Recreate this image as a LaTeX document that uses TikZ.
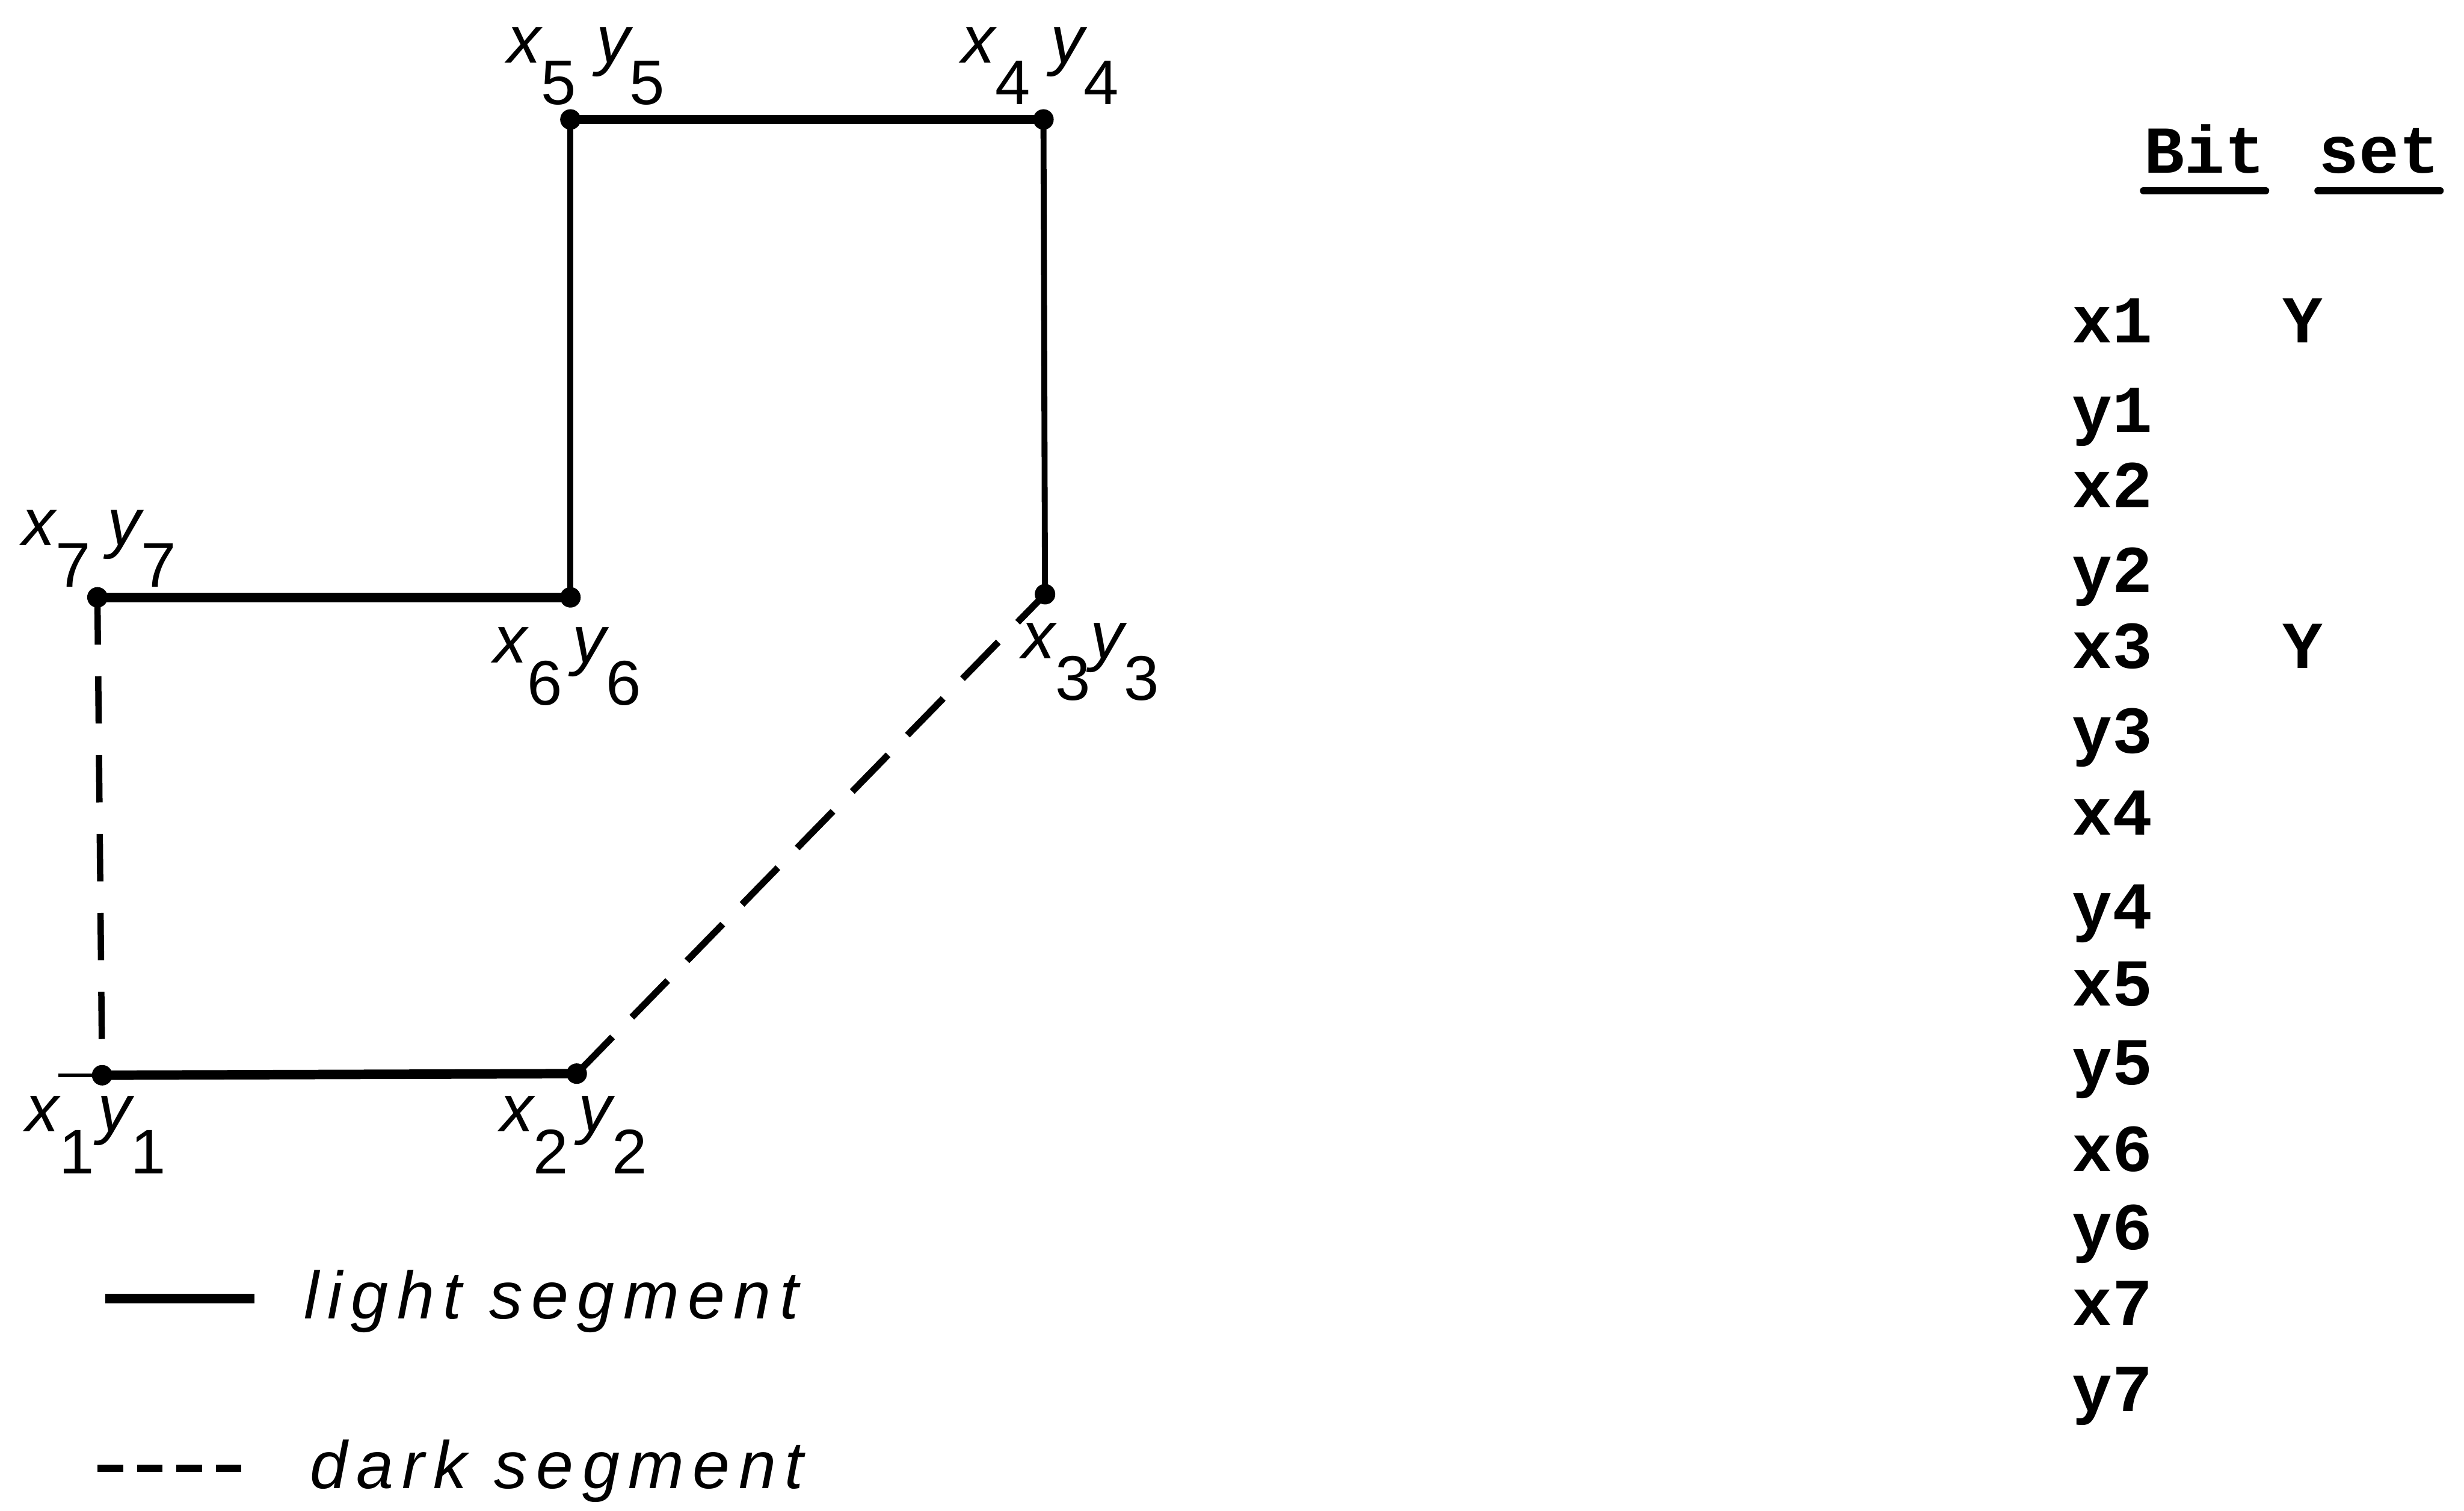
\documentclass[tikz,border=0pt]{standalone}
\usepackage{fontspec}
\setmainfont{Liberation Sans}
\newfontfamily\leroy[LetterSpace=13]{Liberation Sans}
\newfontfamily\typewr{Liberation Mono}
\usetikzlibrary{positioning}

% vertex label: x_i y_i with low subscripts
\newcommand{\ptlab}[2][0.3em]{x\raisebox{-0.62em}{\fontsize{16}{16}\selectfont\upshape #2}\hspace{#1}y\raisebox{-0.62em}{\fontsize{16}{16}\selectfont\upshape #2}}

\begin{document}
\begin{tikzpicture}[
		x=0.014cm, y=-0.014cm,
		lightv/.style = {line width=1.5pt},
		lighth/.style = {line width=2.4pt},
		dark/.style = {line width=1.7pt, dash pattern=on 13pt off 7pt},
		darkv/.style = {line width=1.6pt, dash pattern=on 12pt off 8pt},
		vdot/.style = {fill=black},
		lab/.style = {inner sep=0pt, font=\fontsize{17}{17}\selectfont\itshape},
		legend/.style = {inner sep=0pt, anchor=west, font=\fontsize{17}{17}\selectfont\leroy\itshape},
		tab/.style = {inner sep=0pt, anchor=base west, font=\fontsize{17}{17}\selectfont\typewr\bfseries},
		uline/.style = {line width=1.8pt, line cap=round}
		]
		
		\useasboundingbox (0,0) rectangle (1568,961);
		
		% corners of the outline
		\coordinate (p1) at (65,684);
		\coordinate (p2) at (367,683);
		\coordinate (p3) at (665,378);
		\coordinate (p4) at (664,76);
		\coordinate (p5) at (363,76);
		\coordinate (p6) at (363,380);
		\coordinate (p7) at (62,380);
		\coordinate (tick) at (37,684);
		
		\draw [lighth] (p1) -- (p2);
		\draw [lightv] (p3) -- (p4);
		\draw [lighth] (p4) -- (p5);
		\draw [lightv] (p5) -- (p6);
		\draw [lighth] (p6) -- (p7);
		\draw [darkv] (p7) -- (p1);
		\draw [dark] (p2) -- (p3);
		\draw [line width=0.9pt] (tick) -- (p1);
		
		\fill [vdot] (p1) circle (2.6pt);
		\fill [vdot] (p2) circle (2.6pt);
		\fill [vdot] (p3) circle (2.6pt);
		\fill [vdot] (p4) circle (2.6pt);
		\fill [vdot] (p5) circle (2.6pt);
		\fill [vdot] (p6) circle (2.6pt);
		\fill [vdot] (p7) circle (2.6pt);
		
		\node [lab] (l1) at (61,722) {\ptlab[0.05em]{1}};
		\node [lab] (l2) at (365,722) {\ptlab[0.15em]{2}};
		\node [lab] (l3) at (694,421) {\ptlab[0em]{3}};
		\node [lab] (l4) at (662,42) {\ptlab{4}};
		\node [lab] (l5) at (373,42) {\ptlab{5}};
		\node [lab] (l6) at (361,424) {\ptlab[0.15em]{6}};
		\node [lab] (l7) at (63,349) {\ptlab[0.25em]{7}};
		
		% legend
		\coordinate (ls1) at (67,826);
		\coordinate (ls2) at (162,826);
		\coordinate (ds1) at (62,934);
		\coordinate (ds2) at (158,934);
		\draw [lighth] (ls1) -- (ls2);
		\draw [line width=1.8pt, dash pattern=on 6.5pt off 3.5pt] (ds1) -- (ds2);
		\node [legend] (lighttxt) at (193,828) {light segment};
		\node [legend] (darktxt) at (197,936) {dark segment};
		
		% bit table
		\node [tab] (bit) at (1364,110) {Bit};
		\node [tab] (set) at (1475,110) {set};
		\draw [uline] ([yshift=-4.5pt]bit.base west) -- ([yshift=-4.5pt]bit.base east);
		\draw [uline] ([yshift=-4.5pt]set.base west) -- ([yshift=-4.5pt]set.base east);
		
		\node [tab] (rx1) at (1318,218) {x1};
		\node [tab] (ry1) at (1318,275) {y1};
		\node [tab] (rx2) at (1318,323) {x2};
		\node [tab] (ry2) at (1318,377) {y2};
		\node [tab] (rx3) at (1318,425) {x3};
		\node [tab] (ry3) at (1318,479) {y3};
		\node [tab] (rx4) at (1318,531) {x4};
		\node [tab] (ry4) at (1318,591) {y4};
		\node [tab] (rx5) at (1318,640) {x5};
		\node [tab] (ry5) at (1318,690) {y5};
		\node [tab] (rx6) at (1318,745) {x6};
		\node [tab] (ry6) at (1318,795) {y6};
		\node [tab] (rx7) at (1318,843) {x7};
		\node [tab] (ry7) at (1318,898) {y7};
		
		\node [tab] (setx1) at (1452,218) {Y};
		\node [tab] (setx3) at (1452,425) {Y};
		
	\end{tikzpicture}
\end{document}
